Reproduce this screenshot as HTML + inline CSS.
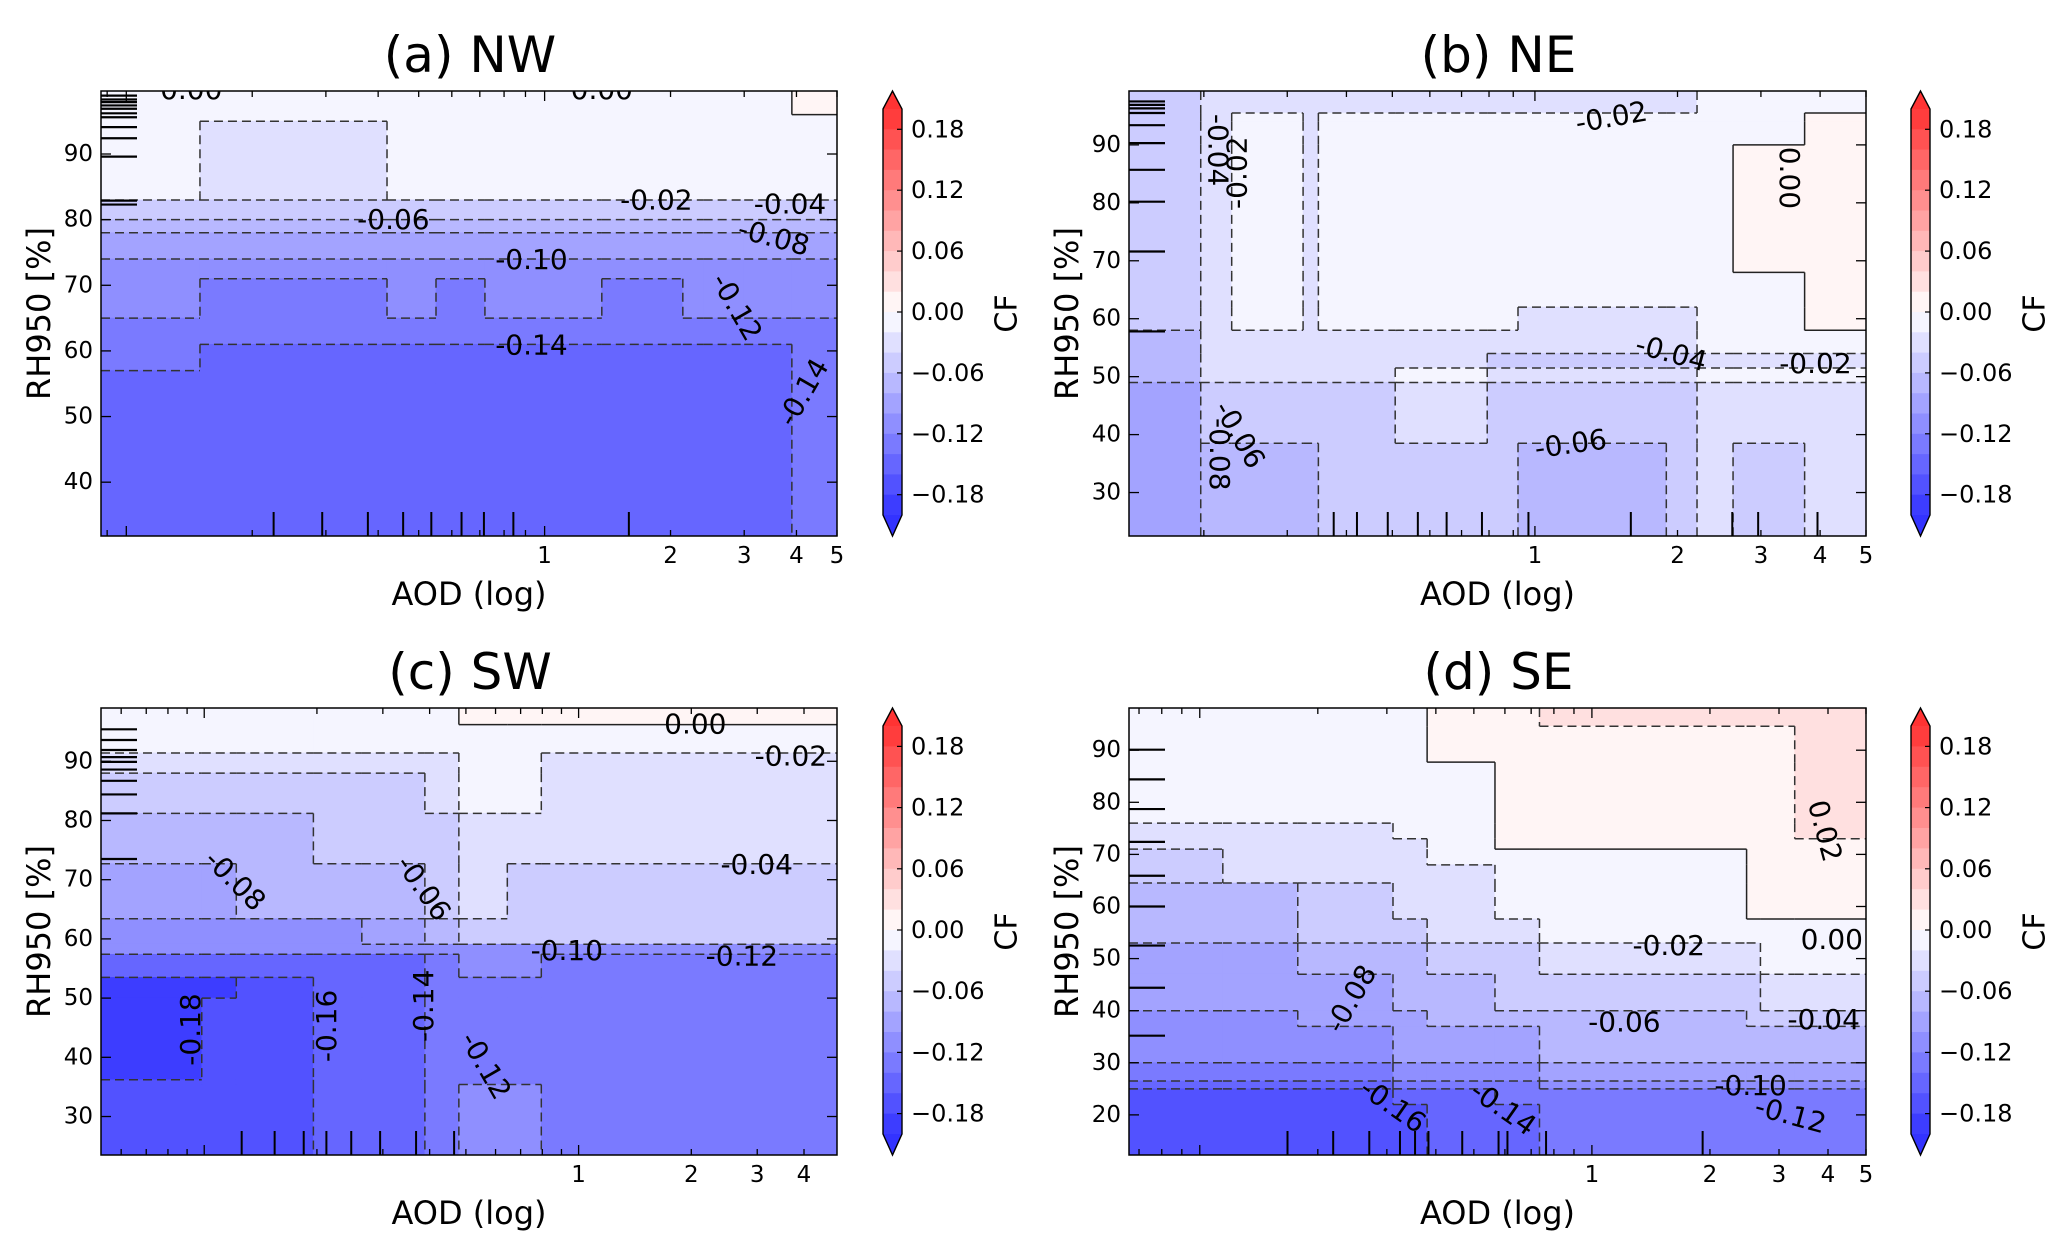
<!DOCTYPE html>
<html><head><meta charset="utf-8">
<style>
html,body{margin:0;padding:0;background:#fff;}
svg{display:block;font-family:"DejaVu Sans","Liberation Sans",sans-serif;}
</style></head>
<body>
<svg id="fig" width="2067" height="1252" viewBox="0 0 2067 1252" xmlns="http://www.w3.org/2000/svg"></svg>
<script>
// ===== Data arrays =====
// Panel (a) NW
const aodEdgesA = [0.087, 0.15, 0.42, 0.55, 0.72, 1.37, 2.14, 2.4, 3.0, 3.9, 5];
const rhEdgesA = [99.6, 96, 95, 84, 83, 80, 78, 74, 71, 65, 61, 57, 55, 31.8];
const cfA = [
 [-.01,-.01,-.01,-.01,-.01,-.01,-.01,-.01,-.01,.01],
 [-.01,-.01,-.01,-.01,-.01,-.01,-.01,-.01,-.01,-.01],
 [-.01,-.03,-.01,-.01,-.01,-.01,-.01,-.01,-.01,-.01],
 [-.01,-.03,-.01,-.01,-.01,-.01,-.01,-.01,-.01,-.01],
 [-.05,-.05,-.05,-.05,-.05,-.05,-.05,-.05,-.05,-.05],
 [-.07,-.07,-.07,-.07,-.07,-.07,-.07,-.07,-.07,-.07],
 [-.09,-.09,-.09,-.09,-.09,-.09,-.09,-.09,-.09,-.09],
 [-.11,-.11,-.11,-.11,-.11,-.11,-.11,-.11,-.11,-.11],
 [-.11,-.13,-.11,-.13,-.11,-.13,-.11,-.11,-.11,-.11],
 [-.13,-.13,-.13,-.13,-.13,-.13,-.13,-.13,-.13,-.13],
 [-.13,-.15,-.15,-.15,-.15,-.15,-.15,-.15,-.15,-.13],
 [-.15,-.15,-.15,-.15,-.15,-.15,-.15,-.15,-.15,-.13],
 [-.15,-.15,-.15,-.15,-.15,-.15,-.15,-.15,-.15,-.13]
];
const labelTextA = ["0.00","0.00","-0.02","-0.04","-0.06","-0.08","-0.10","-0.12","-0.14","-0.14"];
const labelAodA = [0.143,1.37,1.85,3.86,0.435,3.53,0.93,2.88,0.93,4.15];
const labelRhA = [99.8,99.8,83.0,82.4,80.0,77.3,73.9,66.7,60.9,53.7];
const labelRotA = [0,0,0,0,0,15,0,60,0,-60];
const rugRhA = [98.9,98.3,97.9,97.4,96.9,96.2,95.6,94.1,92.4,89.6,82.9,82.3];
const rugAodA = [0.225,0.294,0.378,0.459,0.536,0.633,0.716,0.842,1.59];
const yTicksA = [40,50,60,70,80,90];

// Panel (b) NE
const aodEdgesB = [0.139,0.197,0.229,0.324,0.349,0.507,0.793,0.921,1.894,2.199,2.62,3.71,5];
const rhEdgesB = [99.3,95.5,94,90,68,62,58,54,51.5,49,38.5,22.5];
const cfB = [
 [-.05,-.03,-.03,-.03,-.03,-.03,-.03,-.03,-.03,-.01,-.01,-.01],
 [-.05,-.03,-.01,-.03,-.01,-.01,-.01,-.01,-.01,-.01,-.01,.01],
 [-.05,-.03,-.01,-.03,-.01,-.01,-.01,-.01,-.01,-.01,-.01,.01],
 [-.05,-.03,-.01,-.03,-.01,-.01,-.01,-.01,-.01,-.01,.01,.01],
 [-.05,-.03,-.01,-.03,-.01,-.01,-.01,-.01,-.01,-.01,-.01,.01],
 [-.05,-.03,-.01,-.03,-.01,-.01,-.01,-.03,-.03,-.01,-.01,.01],
 [-.07,-.03,-.03,-.03,-.03,-.03,-.03,-.03,-.03,-.01,-.01,-.01],
 [-.07,-.03,-.03,-.03,-.03,-.03,-.05,-.05,-.05,-.03,-.03,-.03],
 [-.07,-.03,-.03,-.03,-.03,-.01,-.03,-.03,-.03,-.01,-.01,-.01],
 [-.09,-.05,-.05,-.05,-.05,-.03,-.05,-.05,-.05,-.03,-.03,-.03],
 [-.09,-.07,-.07,-.07,-.05,-.05,-.05,-.07,-.05,-.03,-.05,-.03]
];
const labelTextB = ["-0.02","0.00","-0.04","-0.02","-0.04","-0.02","-0.06","-0.06","-0.08"];
const labelAodB = [1.45,3.45,0.214,0.235,1.94,3.91,1.19,0.238,0.216];
const labelRhB = [94.8,84.3,89.1,85.2,54.1,52.3,38.4,40,36.6];
const labelRotB = [-10,90,90,-90,15,0,-8,60,90];
const rugRhB = [97.5,96.9,96.3,95.5,93.4,90.3,85.7,80.2,71.6,57.8];
const rugAodB = [0.376,0.421,0.489,0.566,0.651,0.773,0.969,1.594,2.61,2.96,3.95];
const yTicksB = [30,40,50,60,70,80,90];

// Panel (c) SW
const aodEdgesC = [0.053,0.0985,0.1218,0.1957,0.2636,0.3885,0.4788,0.645,0.795,4.9];
const rhEdgesC = [99,96.2,91.4,88,81.2,72.7,63.4,59.1,57.4,53.5,50,36.2,35.4,23.5];
const cfC = [
 [-.01,-.01,-.01,-.01,-.01,-.01,.01,.01,.01],
 [-.01,-.01,-.01,-.01,-.01,-.01,-.01,-.01,-.01],
 [-.03,-.03,-.03,-.03,-.03,-.03,-.01,-.01,-.03],
 [-.05,-.05,-.05,-.05,-.05,-.03,-.01,-.01,-.03],
 [-.07,-.07,-.07,-.05,-.05,-.05,-.03,-.03,-.03],
 [-.09,-.09,-.07,-.07,-.07,-.05,-.03,-.05,-.05],
 [-.11,-.11,-.11,-.11,-.09,-.07,-.05,-.05,-.05],
 [-.11,-.11,-.11,-.11,-.11,-.11,-.11,-.11,-.11],
 [-.15,-.15,-.15,-.15,-.15,-.13,-.11,-.11,-.13],
 [-.19,-.19,-.17,-.15,-.15,-.13,-.13,-.13,-.13],
 [-.19,-.17,-.17,-.15,-.15,-.13,-.13,-.13,-.13],
 [-.17,-.17,-.17,-.15,-.15,-.13,-.13,-.13,-.13],
 [-.17,-.17,-.17,-.15,-.15,-.13,-.11,-.11,-.13]
];
const labelTextC = ["0.00","-0.02","-0.04","-0.08","-0.06","-0.10","-0.12","-0.18","-0.16","-0.14","-0.12"];
const labelAodC = [2.05,3.69,2.99,0.121,0.385,0.93,2.73,0.092,0.212,0.385,0.565];
const labelRhC = [96.3,90.9,72.6,69.9,68.6,58.0,57.1,44.7,45.3,48.7,38.6];
const labelRotC = [0,0,0,45,55,0,0,-90,-90,-90,60];
const rugRhC = [95.4,93.6,91.9,90.7,89.9,88.6,86.7,84.4,81.2,73.5];
const rugAodC = [0.1259,0.1542,0.1844,0.212,0.247,0.295,0.368,0.465];
const yTicksC = [30,40,50,60,70,80,90];

// Panel (d) SE
const aodEdgesD = [0.066,0.1145,0.1778,0.311,0.380,0.566,0.735,2.48,2.69,3.29,5];
const rhEdgesD = [98.1,94.6,87.7,76,73,71,68,64.5,57.6,53,47,40,37,30,26.5,25,22,12.3];
const cfD = [
 [-.01,-.01,-.01,-.01,.01,.01,.03,.03,.03,.03],
 [-.01,-.01,-.01,-.01,.01,.01,.01,.01,.01,.03],
 [-.01,-.01,-.01,-.01,-.01,.01,.01,.01,.01,.03],
 [-.03,-.03,-.03,-.01,-.01,.01,.01,.01,.01,.03],
 [-.03,-.03,-.03,-.03,-.01,.01,.01,.01,.01,.01],
 [-.05,-.03,-.03,-.03,-.01,-.01,-.01,.01,.01,.01],
 [-.05,-.03,-.03,-.03,-.03,-.01,-.01,.01,.01,.01],
 [-.07,-.07,-.05,-.03,-.03,-.01,-.01,.01,.01,.01],
 [-.07,-.07,-.05,-.05,-.03,-.03,-.01,-.01,-.01,-.01],
 [-.09,-.09,-.07,-.07,-.05,-.05,-.03,-.03,-.01,-.01],
 [-.09,-.09,-.09,-.07,-.07,-.05,-.05,-.05,-.03,-.03],
 [-.11,-.11,-.09,-.09,-.07,-.07,-.07,-.05,-.05,-.05],
 [-.11,-.11,-.11,-.09,-.09,-.09,-.07,-.07,-.07,-.07],
 [-.13,-.13,-.13,-.11,-.11,-.11,-.09,-.09,-.09,-.09],
 [-.15,-.15,-.15,-.13,-.13,-.13,-.11,-.11,-.11,-.11],
 [-.17,-.17,-.17,-.15,-.15,-.13,-.13,-.13,-.13,-.13],
 [-.17,-.17,-.17,-.17,-.15,-.15,-.13,-.13,-.13,-.13]
];
const labelTextD = ["0.02","0.00","-0.02","-0.08","-0.06","-0.04","-0.10","-0.12","-0.16","-0.14"];
const labelAodD = [3.93,4.09,1.57,0.243,1.21,3.9,2.54,3.21,0.311,0.594];
const labelRhD = [74.5,53.7,52.5,42.3,37.8,38.3,25.6,20,21.8,21.3];
const labelRotD = [75,0,0,-60,0,0,0,15,35,35];
const rugRhD = [90.1,84.4,78.7,72.4,65.9,60.0,52.5,44.4,35.2];
const rugAodD = [0.1674,0.2189,0.2706,0.324,0.354,0.383,0.467,0.578,0.609,0.764,1.916];
const yTicksD = [20,30,40,50,60,70,80,90];

const cbarTicks = [0.18,0.12,0.06,0.00,-0.06,-0.12,-0.18];

// ===== Rendering =====
const NS = "http://www.w3.org/2000/svg";
const svg = document.getElementById('fig');
function mk(tag, attrs, parent){ const e=document.createElementNS(NS,tag); for(const k in attrs) e.setAttribute(k,attrs[k]); (parent||svg).appendChild(e); return e; }
function bwr(v){ // alpha 0.8 over white
  let t=(v+0.2)/0.4; t=Math.max(0,Math.min(1,t));
  let r,g,b; if(t<0.5){r=g=2*t;b=1;} else {r=1;g=b=2*(1-t);}
  const a=0.8; const f=c=>Math.round(255*(1-a*(1-c)));
  return `rgb(${f(r)},${f(g)},${f(b)})`;
}
function fmtTick(v){ return (v<0?'\u2212':'')+Math.abs(v).toFixed(2); }

const panels = [
 {id:'a',title:'(a) NW',L:101,T:91,W:736,H:445,aMin:0.087,aMax:5,rMin:31.8,rMax:99.6,ae:aodEdgesA,re:rhEdgesA,cf:cfA,lt:labelTextA,la:labelAodA,lr:labelRhA,lrot:labelRotA,rugR:rugRhA,rugA:rugAodA,yt:yTicksA,xt:[1,2,3,4,5],cbX:883},
 {id:'b',title:'(b) NE',L:1129,T:91,W:737,H:445,aMin:0.139,aMax:5,rMin:22.5,rMax:99.3,ae:aodEdgesB,re:rhEdgesB,cf:cfB,lt:labelTextB,la:labelAodB,lr:labelRhB,lrot:labelRotB,rugR:rugRhB,rugA:rugAodB,yt:yTicksB,xt:[1,2,3,4,5],cbX:1911},
 {id:'c',title:'(c) SW',L:101,T:708,W:736,H:447,aMin:0.053,aMax:4.9,rMin:23.5,rMax:99,ae:aodEdgesC,re:rhEdgesC,cf:cfC,lt:labelTextC,la:labelAodC,lr:labelRhC,lrot:labelRotC,rugR:rugRhC,rugA:rugAodC,yt:yTicksC,xt:[1,2,3,4],cbX:883},
 {id:'d',title:'(d) SE',L:1129,T:708,W:737,H:447,aMin:0.066,aMax:5,rMin:12.3,rMax:98.1,ae:aodEdgesD,re:rhEdgesD,cf:cfD,lt:labelTextD,la:labelAodD,lr:labelRhD,lrot:labelRotD,rugR:rugRhD,rugA:rugAodD,yt:yTicksD,xt:[1,2,3,4,5],cbX:1911}
];

panels.forEach(p=>{
  const g = mk('g',{});
  
  
  const X = a => p.L + (Math.log10(a)-Math.log10(p.aMin))/(Math.log10(p.aMax)-Math.log10(p.aMin))*p.W;
  const Y = r => p.T + (p.rMax-r)/(p.rMax-p.rMin)*p.H;
  const defs = mk('defs',{},g);
  const cp = mk('clipPath',{id:'clip'+p.id},defs);
  mk('rect',{x:p.L,y:p.T,width:p.W,height:p.H},cp);
  const plot = mk('g',{'clip-path':`url(#clip${p.id})`},g);
  
  
  for(let i=0;i<p.cf.length;i++){
    for(let j=0;j<p.cf[i].length;j++){
      const x0=X(p.ae[j]), x1=X(p.ae[j+1]), y0=Y(p.re[i]), y1=Y(p.re[i+1]);
      const c = mk('rect',{x:x0-0.3,y:y0-0.3,width:x1-x0+0.6,height:y1-y0+0.6,fill:bwr(p.cf[i][j])},plot);
      
      
    }
  }
  const lineStyle=(v1,v2)=>{ const lo=Math.min(v1,v2), hi=Math.max(v1,v2); return (lo<0&&hi>0)?{stroke:'#222','stroke-width':1.5}:{stroke:'#333','stroke-width':1.5,'stroke-dasharray':'9,5'}; };
  for(let i=0;i<p.cf.length;i++){
    for(let j=0;j<p.cf[i].length;j++){
      const v=p.cf[i][j];
      if(j+1<p.cf[i].length && p.cf[i][j+1]!==v){
        const x=X(p.ae[j+1]);
        const l=mk('line',Object.assign({x1:x,x2:x,y1:Y(p.re[i]),y2:Y(p.re[i+1]),fill:'none'},lineStyle(v,p.cf[i][j+1])),plot);
        
        
      }
      if(i+1<p.cf.length && p.cf[i+1][j]!==v){
        const y=Y(p.re[i+1]);
        const l=mk('line',Object.assign({x1:X(p.ae[j]),x2:X(p.ae[j+1]),y1:y,y2:y,fill:'none'},lineStyle(v,p.cf[i+1][j])),plot);
        
        
      }
    }
  }
  for(let k=0;k<p.lt.length;k++){
    const x=X(p.la[k]), y=Y(p.lr[k]);
    const t=mk('text',{x:x,y:y,'font-size':28,'text-anchor':'middle','dominant-baseline':'central',fill:'#000',transform:`rotate(${p.lrot[k]} ${x} ${y})`},plot);
    t.textContent=p.lt[k];
    
    
  }
  p.rugR.forEach(r=>{ const l=mk('line',{x1:p.L,x2:p.L+36,y1:Y(r),y2:Y(r),stroke:'#000','stroke-width':2.2},plot);
      });
  p.rugA.forEach(a=>{ const l=mk('line',{x1:X(a),x2:X(a),y1:p.T+p.H,y2:p.T+p.H-24,stroke:'#000','stroke-width':2},plot);
      });
  const fr=mk('rect',{x:p.L,y:p.T,width:p.W,height:p.H,fill:'none',stroke:'#000','stroke-width':1.5},g);
   
  p.yt.forEach(r=>{
    const y=Y(r);
    mk('line',{x1:p.L,x2:p.L+10,y1:y,y2:y,stroke:'#000','stroke-width':1.3},g);
    mk('line',{x1:p.L+p.W,x2:p.L+p.W-10,y1:y,y2:y,stroke:'#000','stroke-width':1.3},g);
    const t=mk('text',{x:p.L-8,y:y,'font-size':23,'text-anchor':'end','dominant-baseline':'central'},g);
    t.textContent=r;
     
  });
  for(let e=-2;e<=0;e++){
    for(let m=1;m<=9;m++){
      const a=m*Math.pow(10,e);
      if(a<p.aMin||a>p.aMax) continue;
      const x=X(a); const len=(m===1)?10:6;
      mk('line',{x1:x,x2:x,y1:p.T+p.H,y2:p.T+p.H-len,stroke:'#000','stroke-width':1.3},g);
      mk('line',{x1:x,x2:x,y1:p.T,y2:p.T+len,stroke:'#000','stroke-width':1.3},g);
    }
  }
  p.xt.forEach(a=>{
    const x=X(a);
    const t=mk('text',{x:x,y:p.T+p.H+20,'font-size':23,'text-anchor':'middle','dominant-baseline':'central'},g);
    t.textContent=a;
     
  });
  const cx=p.L+p.W/2;
  const ti=mk('text',{x:cx+1,y:p.T-36,'font-size':50,'text-anchor':'middle','dominant-baseline':'central'},g);
  ti.textContent=p.title;  
  const xl=mk('text',{x:cx,y:p.T+p.H+58,'font-size':32,'text-anchor':'middle','dominant-baseline':'central'},g);
  xl.textContent='AOD (log)';  
  const ylx=p.L-62, yly=p.T+p.H/2;
  const yl=mk('text',{x:ylx,y:yly,'font-size':32,'text-anchor':'middle','dominant-baseline':'central',transform:`rotate(-90 ${ylx} ${yly})`},g);
  yl.textContent='RH950 [%]';  

  const cb=mk('g',{},g);
   
  const cbT=p.T+18, cbB=p.T+p.H-21, cbW=19, cx0=p.cbX;
  const CY=v=>cbT+(0.2-v)/0.4*(cbB-cbT);
  for(let k=0;k<20;k++){
    const hi=0.2-0.02*k, lo=hi-0.02;
    mk('rect',{x:cx0,y:CY(hi),width:cbW,height:CY(lo)-CY(hi)+0.5,fill:bwr((hi+lo)/2)},cb);
  }
  mk('polygon',{points:`${cx0},${cbT} ${cx0+cbW/2},${p.T} ${cx0+cbW},${cbT}`,fill:bwr(0.21)},cb);
  mk('polygon',{points:`${cx0},${cbB} ${cx0+cbW/2},${p.T+p.H} ${cx0+cbW},${cbB}`,fill:bwr(-0.21)},cb);
  mk('polygon',{points:`${cx0},${cbT} ${cx0+cbW/2},${p.T} ${cx0+cbW},${cbT} ${cx0+cbW},${cbB} ${cx0+cbW/2},${p.T+p.H} ${cx0},${cbB}`,fill:'none',stroke:'#000','stroke-width':1.4},cb);
  cbarTicks.forEach(v=>{
    const y=CY(v);
    mk('line',{x1:cx0+cbW-5,x2:cx0+cbW,y1:y,y2:y,stroke:'#000','stroke-width':1.2},cb);
    const t=mk('text',{x:cx0+28,y:y,'font-size':24,'dominant-baseline':'central'},cb);
    t.textContent=fmtTick(v);
     
  });
  const lx=cx0+124, ly=p.T+p.H/2;
  const cl=mk('text',{x:lx,y:ly,'font-size':30,'text-anchor':'middle','dominant-baseline':'central',transform:`rotate(-90 ${lx} ${ly})`},cb);
  cl.textContent='CF';  
});
</script>
</body></html>
